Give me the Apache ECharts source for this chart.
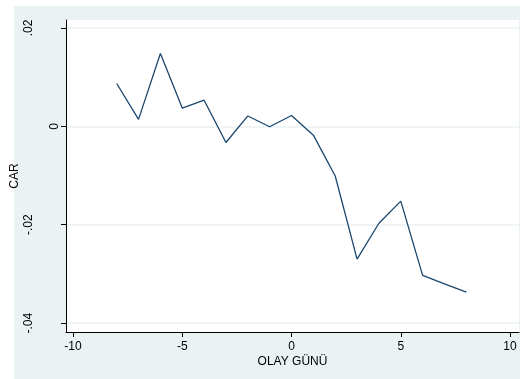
<!DOCTYPE html>
<html>
<head>
<meta charset="utf-8">
<script src="https://cdn.jsdelivr.net/npm/echarts@6/dist/echarts.min.js"></script>
<style>
  html, body { margin: 0; padding: 0; background: #fff; }
  #chart { width: 520px; height: 379px; }
</style>
</head>
<body>
<div id="chart"></div>
<script>
// Event days and cumulative abnormal returns
const days = [-8, -7, -6, -5, -4, -3, -2, -1, 0, 1, 2, 3, 4, 5, 6, 7, 8];
const carValues = [0.0087, 0.0014, 0.0148, 0.0037, 0.0053, -0.0033, 0.0021, -0.0001, 0.0022,
                   -0.0018, -0.0101, -0.0270, -0.0197, -0.0152, -0.0303, -0.0320, -0.0337];
const xTicks = [-10, -5, 0, 5, 10];
const yTicks = [-0.04, -0.02, 0, 0.02];
const yTickLabels = ['-.04', '-.02', '0', '.02'];

const points = days.map((d, i) => [d, carValues[i]]);
const FONT = 'Liberation Sans, Arial, sans-serif';
const Y_MIN = -0.0418, Y_MAX = 0.0216;

function yLabel(v) {
  const i = yTicks.findIndex(t => Math.abs(t - v) < 1e-9);
  return i >= 0 ? yTickLabels[i] : '';
}

const chart = echarts.init(document.getElementById('chart'), null, { renderer: 'canvas' });
chart.setOption({
  animation: false,
  backgroundColor: '#ffffff',
  graphic: [{
    type: 'rect', z: -10, silent: true,
    shape: { x: 14, y: 6, width: 506, height: 373 },
    style: { fill: '#EAF2F3' }
  }],
  grid: {
    left: 66, top: 20, right: 1, bottom: 47,
    containLabel: false, outerBoundsMode: 'none',
    show: true, backgroundColor: '#ffffff', borderWidth: 0
  },
  xAxis: {
    type: 'value',
    min: -10.32, max: 10.41,
    name: 'OLAY GÜNÜ',
    nameLocation: 'middle',
    nameGap: 24,
    nameMoveOverlap: false,
    nameTextStyle: { color: '#000', fontFamily: FONT, fontSize: 12 },
    axisLine: { show: true, onZero: false, lineStyle: { color: '#000', width: 1 } },
    axisTick: { show: true, length: 5, customValues: xTicks, lineStyle: { color: '#000' } },
    axisLabel: {
      customValues: xTicks, margin: 9,
      color: '#000', fontFamily: FONT, fontSize: 12,
      showMinLabel: true, showMaxLabel: true
    },
    splitLine: { show: false }
  },
  yAxis: [{
    type: 'value',
    min: Y_MIN, max: Y_MAX,
    name: 'CAR',
    nameLocation: 'middle',
    nameRotate: 90,
    nameGap: 45,
    nameMoveOverlap: false,
    nameTextStyle: { color: '#000', fontFamily: FONT, fontSize: 12 },
    axisLine: { show: true, onZero: false, lineStyle: { color: '#000', width: 1 } },
    axisTick: { show: true, length: 5, customValues: yTicks, lineStyle: { color: '#000' } },
    axisLabel: {
      customValues: yTicks.filter(t => t !== 0),
      rotate: 90, margin: 31,
      color: '#000', fontFamily: FONT, fontSize: 12,
      formatter: yLabel
    },
    splitLine: { show: true, lineStyle: { color: '#EAF2F3', width: 1.5 } }
  }, {
    // zero label sits closer to the axis
    type: 'value',
    position: 'left',
    min: Y_MIN, max: Y_MAX,
    axisLine: { show: false },
    axisTick: { show: false },
    splitLine: { show: false },
    axisLabel: {
      customValues: [0],
      rotate: 90, margin: 5,
      color: '#000', fontFamily: FONT, fontSize: 12,
      formatter: yLabel
    }
  }],
  series: [{
    type: 'line',
    data: points,
    showSymbol: false,
    lineStyle: { color: '#1A476F', width: 1.3 },
    itemStyle: { color: '#1A476F' }
  }]
});
</script>
</body>
</html>
